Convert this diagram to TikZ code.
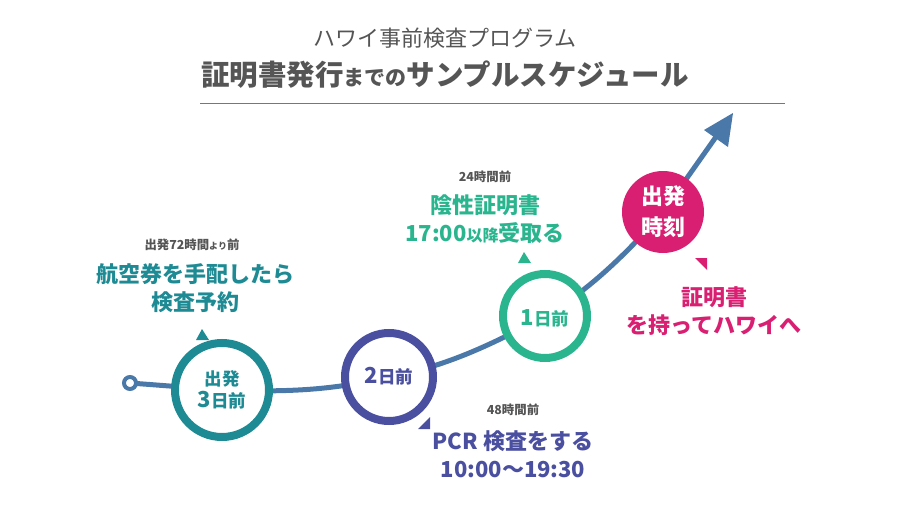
\documentclass[tikz,border=0pt]{standalone}
\usepackage{fontspec}
\setmainfont{Noto Sans CJK JP}
\definecolor{cteal}{HTML}{1E8A93}
\definecolor{cind}{HTML}{4A4FA0}
\definecolor{cgrn}{HTML}{2BB58F}
\definecolor{cpink}{HTML}{D91F72}
\definecolor{cline}{HTML}{4A78A8}
\definecolor{cgray}{HTML}{555555}
\begin{document}
\begin{tikzpicture}[x=1pt,y=-1pt,
  ring/.style={circle,draw=#1,line width=8pt,fill=white,minimum size=92pt,inner sep=0pt},
  lbl/.style={font=\bfseries\fontsize{22}{28}\selectfont,align=center},
  sm/.style={font=\bfseries\fontsize{12.4}{14}\selectfont,text=cgray},
  tri/.style={fill=#1,draw=none}]
\useasboundingbox (0,0) rectangle (900,506);
\node (t1) at (445,38) {\fontsize{22}{24}\selectfont\color{cgray}ハワイ事前検査プログラム};
\node (t2) at (445,75) {\bfseries\color{cgray}\fontsize{28.5}{32}\selectfont 証明書発行{\fontsize{21}{22}\selectfont までの}サンプルスケジュール};
\coordinate (la) at (200,103); \coordinate (lb) at (785,103);
\draw[cgray!80,line width=0.8pt] (la) -- (lb);
% path
\coordinate (s) at (130,383);
\coordinate (tip) at (733,113);
\coordinate (c1) at (222,390);
\coordinate (c2) at (389,377);
\coordinate (c3) at (545,316);
\coordinate (c4) at (663,212);
\draw[cline,line width=5pt] (s) -- (c1) .. controls (300,393) and (340,388) .. (c2)
  .. controls (450,366) and (500,340) .. (c3) .. controls (590,290) and (630,250) .. (c4) -- (718,134);
\fill[cline] (tip) -- (704,130) -- (728,147) -- cycle;
\node[circle,draw=cline,line width=4pt,fill=white,minimum size=12pt,inner sep=0pt] (st) at (s) {};
\node[ring=cteal,minimum size=94pt] (n1) at (c1) {};
\node[ring=cind,minimum size=88pt] (n2) at (c2) {};
\node[ring=cgrn,minimum size=84pt] (n3) at (c3) {};
\node[circle,fill=cpink,minimum size=82pt,inner sep=0pt] (n4) at (c4) {};
\node[font=\bfseries\fontsize{17.5}{20}\selectfont,text=cteal,align=center] at (222,390) {出発\\[2pt]{\fontsize{22}{24}\selectfont 3}日前};
\node[font=\bfseries\fontsize{17.5}{20}\selectfont,text=cind] at (389,376) {{\fontsize{22}{24}\selectfont 2}日前};
\node[font=\bfseries\fontsize{17.5}{20}\selectfont,text=cgrn] at (545,318) {{\fontsize{22}{24}\selectfont 1}日前};
\node[font=\bfseries\fontsize{22}{31}\selectfont,text=white,align=center] at (663,212) {出発\\時刻};
% triangles
\fill[tri=cteal] (196,340) -- (209,340) -- (202,329) -- cycle;
\fill[tri=cind] (418,429) -- (430,429) -- (430,417) -- cycle;
\fill[tri=cgrn] (518,263) -- (531,263) -- (524,252) -- cycle;
\fill[tri=cpink] (695,258) -- (707,258) -- (707,270) -- cycle;
% labels
\node[sm] at (192,245) {出発72時間{\fontsize{9}{10}\selectfont より}前};
\node[lbl,text=cteal] at (195,288) {航空券を手配したら\\検査予約};
\node[sm] at (513,410) {48時間前};
\node[lbl,text=cind] at (513,454) {PCR 検査をする\\10:00〜19:30};
\node[sm] at (485,177) {24時間前};
\node[lbl,text=cgrn] at (485,219) {陰性証明書\\17:00{\fontsize{16}{18}\selectfont 以降}受取る};
\node[lbl,text=cpink] at (714,311) {証明書\\を持ってハワイへ};
\end{tikzpicture}
\end{document}
